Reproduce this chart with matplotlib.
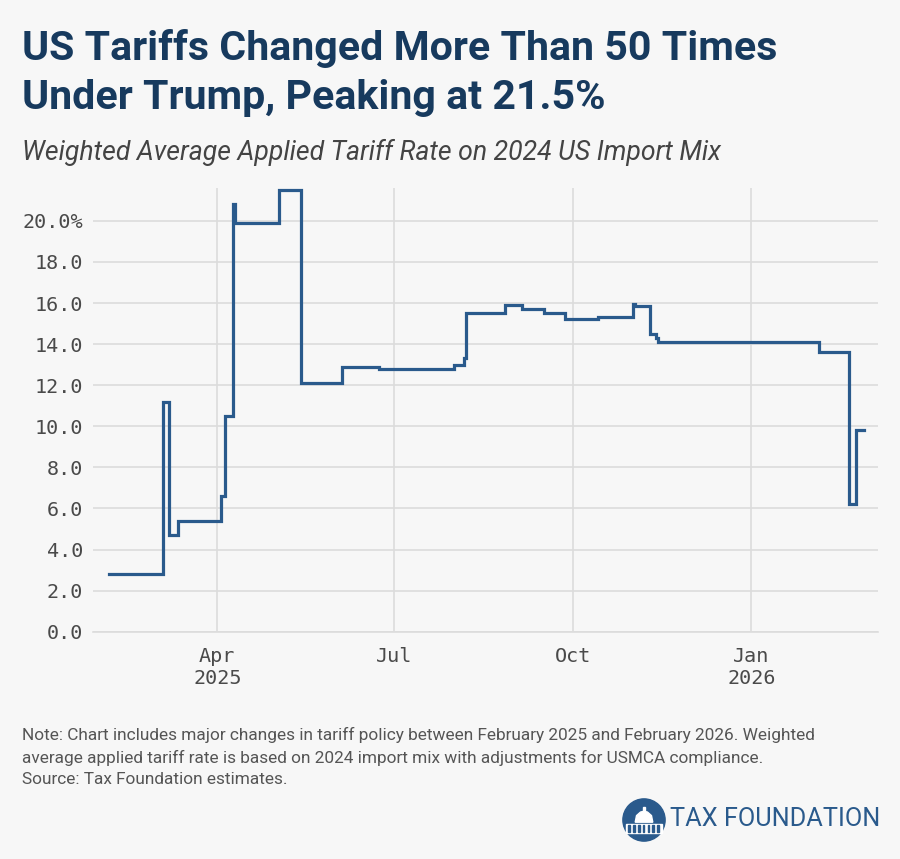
import numpy as np
import pandas as pd
import matplotlib
matplotlib.use("Agg")
import matplotlib.pyplot as plt
import matplotlib.dates as mdates
from matplotlib.patches import Circle, Rectangle, Polygon

# ---- data ----
dates = ["2025-02-04", "2025-03-04", "2025-03-07", "2025-03-12", "2025-04-03",
         "2025-04-05", "2025-04-09", "2025-04-10", "2025-05-03", "2025-05-14",
         "2025-06-04", "2025-06-23", "2025-08-01", "2025-08-06", "2025-08-07",
         "2025-08-27", "2025-09-05", "2025-09-16", "2025-09-27", "2025-10-14",
         "2025-11-01", "2025-11-02", "2025-11-10", "2025-11-13", "2025-11-14",
         "2026-02-05", "2026-02-20", "2026-02-24", "2026-02-28"]
rates = [2.8, 11.2, 4.7, 5.4, 6.6,
         10.5, 20.8, 19.9, 21.5, 12.1,
         12.9, 12.8, 13.0, 13.3, 15.5,
         15.9, 15.7, 15.5, 15.2, 15.3,
         15.95, 15.85, 14.5, 14.3, 14.1,
         13.6, 6.2, 9.8, 9.8]
yticks = [0, 2, 4, 6, 8, 10, 12, 14, 16, 18, 20]
ylabels = ["0.0", "2.0", "4.0", "6.0", "8.0", "10.0", "12.0", "14.0", "16.0", "18.0", "20.0%"]
xticks = ["2025-04-01", "2025-07-01", "2025-10-01", "2026-01-01"]
xlabels = ["Apr\n2025", "Jul", "Oct", "Jan\n2026"]

title = "US Tariffs Changed More Than 50 Times\nUnder Trump, Peaking at 21.5%"
subtitle = "Weighted Average Applied Tariff Rate on 2024 US Import Mix"
note = ("Note: Chart includes major changes in tariff policy between February 2025 and February 2026. Weighted\n"
        "average applied tariff rate is based on 2024 import mix with adjustments for USMCA compliance.\n"
        "Source: Tax Foundation estimates.")

bg = "#f7f7f7"
navy = "#173a5e"
blue = "#2a5a8c"
grid = "#dcdcdc"

fig = plt.figure(figsize=[9, 8.59], dpi=100, facecolor=bg)
ax = fig.add_axes([93/900, 1-631.7/859, (877.7-93)/900, (631.7-188)/859])
ax.set_facecolor(bg)

x = pd.to_datetime(dates)
ax.step(x, rates, where="post", color=blue, lw=2.3, solid_joinstyle="miter")

ax.set_xlim(pd.Timestamp("2025-01-27"), pd.Timestamp("2026-03-07"))
ax.set_ylim(0, 21.6)
ax.set_yticks(yticks)
ax.set_yticklabels(ylabels)
ax.set_xticks(pd.to_datetime(xticks))
ax.set_xticklabels(xlabels)

for s in ["top", "right", "left"]:
    ax.spines[s].set_visible(False)
ax.spines["bottom"].set_color(grid)
ax.spines["bottom"].set_linewidth(1.2)
ax.grid(True, color=grid, lw=1.2)
ax.set_axisbelow(True)
ax.tick_params(length=0, labelsize=14.5, labelcolor="#4a4a4a", pad=7)
ax.tick_params(axis="x", pad=11)
for lb in ax.get_xticklabels() + ax.get_yticklabels():
    lb.set_family("DejaVu Sans Mono")

# ---- titles and notes ----
fig.text(22/900, 1-29/859, title, ha="left", va="top", fontsize=29.6, fontweight="bold",
         family="Roboto", color=navy, linespacing=1.36)
fig.text(22/900, 1-152/859, subtitle, ha="left", va="center", fontsize=19.2, style="italic",
         family="Roboto", color="#444444")
fig.text(22/900, 1-727/859, note, ha="left", va="top", fontsize=12.4,
         family="Roboto", color="#555555", linespacing=1.5)

# ---- logo ----
lx = fig.add_axes([622/900, 1-842/859, 44/900, 44/859])
lx.set_xlim(0, 1)
lx.set_ylim(0, 1)
lx.axis("off")
lx.add_patch(Circle((0.5, 0.5), 0.48, color=blue))
lx.add_patch(Polygon([[0.3, 0.45], [0.33, 0.6], [0.42, 0.68], [0.5, 0.7], [0.58, 0.68],
                      [0.67, 0.6], [0.7, 0.45]], closed=True, color="white"))
lx.add_patch(Rectangle((0.47, 0.7), 0.06, 0.1, color="white"))
lx.add_patch(Rectangle((0.1, 0.2), 0.8, 0.2, color="white"))
for k in range(7):
    lx.add_patch(Rectangle((0.14 + k*0.11, 0.22), 0.04, 0.16, color=blue))
fig.text(670/900, 1-819/859, "TAX FOUNDATION", ha="left", va="center", fontsize=18.2,
         family="Roboto", color=blue)

fig.savefig("out.png", dpi=100, facecolor=bg)
